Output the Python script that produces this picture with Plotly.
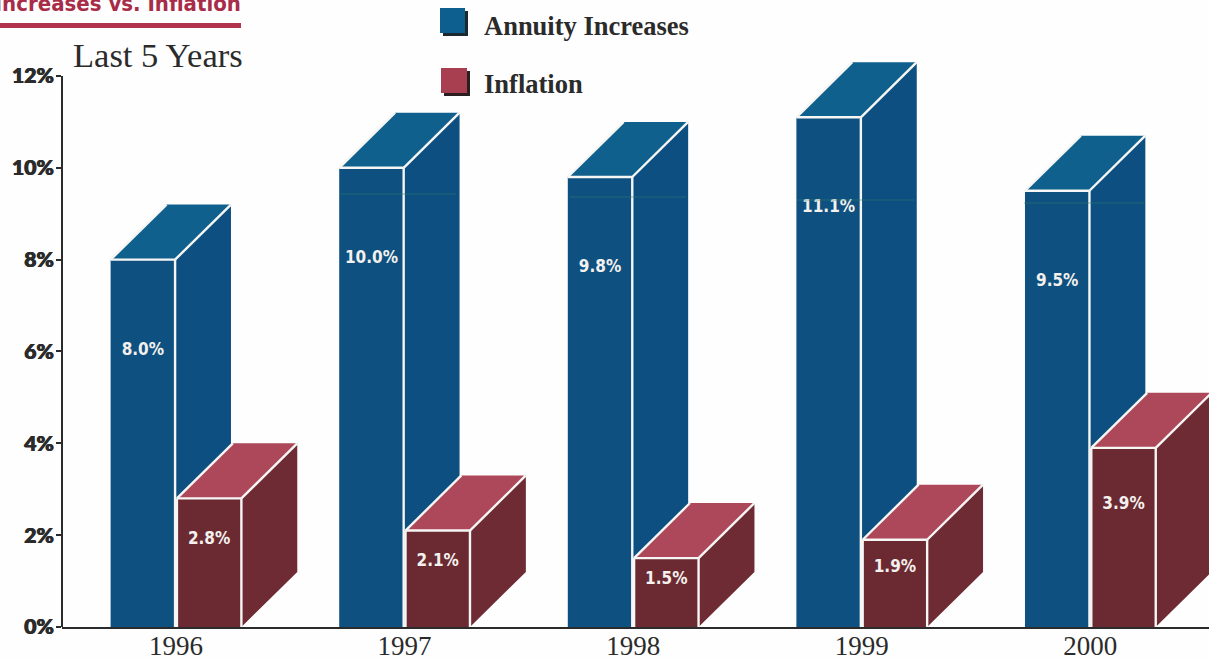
import plotly.graph_objects as go

# Chart data
years = ["1996", "1997", "1998", "1999", "2000"]
annuity_increases = [8.0, 10.0, 9.8, 11.1, 9.5]
inflation = [2.8, 2.1, 1.5, 1.9, 3.9]
y_ticks = [0, 2, 4, 6, 8, 10, 12]
y_tick_labels = ["0%", "2%", "4%", "6%", "8%", "10%", "12%"]

W, H = 1209, 660
PX_PER_PCT = 45.92
BASE_Y = 627

# Box geometry in axis units
BAR_W = 0.282
GAP = 0.004
DEPTH_X = 0.2445
DEPTH_Y = 1.2

BLUE_FRONT, BLUE_SIDE, BLUE_TOP = "#0e5080", "#0d4f80", "#0f608d"
RED_FRONT, RED_SIDE, RED_TOP = "#6b2a31", "#6e2b34", "#ad485b"
EDGE = "#f6f6f4"
INK = "#2b2b2b"
SERIF = "Liberation Serif"
CONDENSED = "DejaVu Sans Condensed"


def polygons(rows):
    xs, ys = [], []
    for pts in rows:
        for px_, py_ in pts + [pts[0]]:
            xs.append(px_)
            ys.append(py_)
        xs.append(None)
        ys.append(None)
    return xs, ys


def segments(rows):
    xs, ys = [], []
    for (x0, y0), (x1, y1) in rows:
        xs += [x0, x1, None]
        ys += [y0, y1, None]
    return xs, ys


def box_faces(x0, x1, v):
    front = [(x0, 0), (x1, 0), (x1, v), (x0, v)]
    side = [(x1, 0), (x1 + DEPTH_X, DEPTH_Y), (x1 + DEPTH_X, v + DEPTH_Y), (x1, v)]
    top = [(x0, v), (x1, v), (x1 + DEPTH_X, v + DEPTH_Y), (x0 + DEPTH_X, v + DEPTH_Y)]
    return front, side, top


fig = go.Figure()


def add_fill(rows, color):
    xs, ys = polygons(rows)
    fig.add_trace(go.Scatter(x=xs, y=ys, mode="lines", fill="toself", fillcolor=color,
                             line=dict(width=0, color=color), cliponaxis=False,
                             hoverinfo="skip", showlegend=False))


def add_edges(rows):
    xs, ys = segments(rows)
    fig.add_trace(go.Scatter(x=xs, y=ys, mode="lines", line=dict(width=2.4, color=EDGE),
                             cliponaxis=False, hoverinfo="skip", showlegend=False))


# Annuity boxes sit behind the inflation boxes
blue = [box_faces(i - BAR_W - GAP, i - GAP, v) for i, v in enumerate(annuity_increases)]
add_fill([f[0] for f in blue], BLUE_FRONT)
add_fill([f[1] for f in blue], BLUE_SIDE)
add_fill([f[2] for f in blue], BLUE_TOP)
add_edges([e for f in blue for e in (
    (f[0][1], f[0][2]), (f[2][0], f[2][1]), (f[2][0], f[2][3]), (f[2][1], f[2][2]))])

red = [box_faces(i + GAP, i + GAP + BAR_W, v) for i, v in enumerate(inflation)]
add_fill([f[1] for f in red], RED_SIDE)
add_fill([f[2] for f in red], RED_TOP)
add_fill([f[0] for f in red], RED_FRONT)
add_edges([e for f in red for e in (
    (f[0][0], f[0][3]), (f[0][1], f[0][2]), (f[2][0], f[2][1]),
    (f[2][0], f[2][3]), (f[2][1], f[2][2]))])

# Value labels on the front faces
label_font = dict(family=CONDENSED, size=17, color="#f4f1ee", weight="bold")
fig.add_trace(go.Scatter(
    x=[i - GAP - BAR_W / 2 for i in range(len(years))],
    y=[v - 1.98 for v in annuity_increases],
    mode="text", text=[f"{v:.1f}%" for v in annuity_increases],
    textfont=label_font, cliponaxis=False, hoverinfo="skip", showlegend=False))
fig.add_trace(go.Scatter(
    x=[i + GAP + BAR_W / 2 for i in range(len(years))],
    y=[v * 0.68 for v in inflation],
    mode="text", text=[f"{v:.1f}%" for v in inflation],
    textfont=label_font, cliponaxis=False, hoverinfo="skip", showlegend=False))

# Heading that runs off the top-left corner of the page
fig.add_trace(go.Scatter(
    x=[(241 - 176) / 229], y=[(BASE_Y - 5.5) / PX_PER_PCT], mode="text",
    text=["Increases vs. Inflation"], textposition="middle left",
    textfont=dict(family=CONDENSED, size=22, color="#a82c48", weight="bold"),
    cliponaxis=False, hoverinfo="skip", showlegend=False))


def px(x):
    return x / W


def py(y):
    return 1 - y / H


def rect(x0, y0, x1, y1, color):
    return dict(type="rect", xref="paper", yref="paper", x0=px(x0), x1=px(x1),
                y0=py(y1), y1=py(y0), fillcolor=color, line=dict(width=0), layer="below")


def hairline(x0, y0, x1, y1):
    return dict(type="line", xref="paper", yref="paper", x0=px(x0), x1=px(x1),
                y0=py(y0), y1=py(y1), layer="above", opacity=0.55,
                line=dict(width=1, color="#2f7f6f"))


shapes = [
    rect(0, 23, 241, 28, "#b3324c"),
    rect(443, 11, 468, 36, "#1c2a30"),
    rect(440, 8, 465, 33, "#0d5f90"),
    rect(444, 71, 470, 96, "#2a1e20"),
    rect(441, 68, 467, 93, "#a83f50"),
    # vertical axis stops at the 12% mark, below the tallest box
    dict(type="line", xref="paper", yref="y", x0=px(62), x1=px(62), y0=0, y1=12,
         line=dict(width=2, color=INK)),
    # faint printing line across the blue faces
    hairline(339, 194, 456, 194),
    hairline(570, 197, 686, 197),
    hairline(797, 200, 914, 200),
    hairline(1024, 203, 1144, 203),
]


def note(text, x, y, size, anchor="left", color=INK, family=SERIF, weight="normal"):
    return dict(text=text, xref="paper", yref="paper", x=px(x), y=py(y), xanchor=anchor,
                yanchor="middle", showarrow=False,
                font=dict(family=family, size=size, color=color, weight=weight))


annotations = [
    note("Last 5 Years", 245, 55, 34.5, "right"),
    note("Annuity Increases", 482, 26, 26.5, weight="bold"),
    note("Inflation", 482, 84, 26.5, weight="bold"),
]

fig.update_layout(
    width=W, height=H, margin=dict(l=0, r=0, t=0, b=0),
    paper_bgcolor="#fefefe", plot_bgcolor="#fefefe", showlegend=False,
    shapes=shapes, annotations=annotations,
    xaxis=dict(domain=[62 / W, 1], range=[-0.4987, 4.519], tickmode="array", automargin=False,
               tickvals=list(range(len(years))), ticktext=years, showgrid=False,
               zeroline=False, showline=True, linecolor=INK, linewidth=2, ticks="",
               ticklabelstandoff=-6, tickfont=dict(family=SERIF, size=27, color=INK)),
    yaxis=dict(domain=[(H - BASE_Y) / H, 1], range=[0, BASE_Y / PX_PER_PCT], tickmode="array",
               automargin=False, tickvals=y_ticks, ticktext=y_tick_labels, showgrid=False,
               zeroline=False, showline=False, ticks="outside", ticklen=5,
               tickcolor=INK, tickwidth=1.5, ticklabelstandoff=-2,
               tickfont=dict(family="Lato", size=21, color=INK, weight=900,
                             shadow="0.5px 0 0 #2b2b2b, -0.5px 0 0 #2b2b2b")),
)

fig.write_html("out.html", config=dict(displayModeBar=False))
